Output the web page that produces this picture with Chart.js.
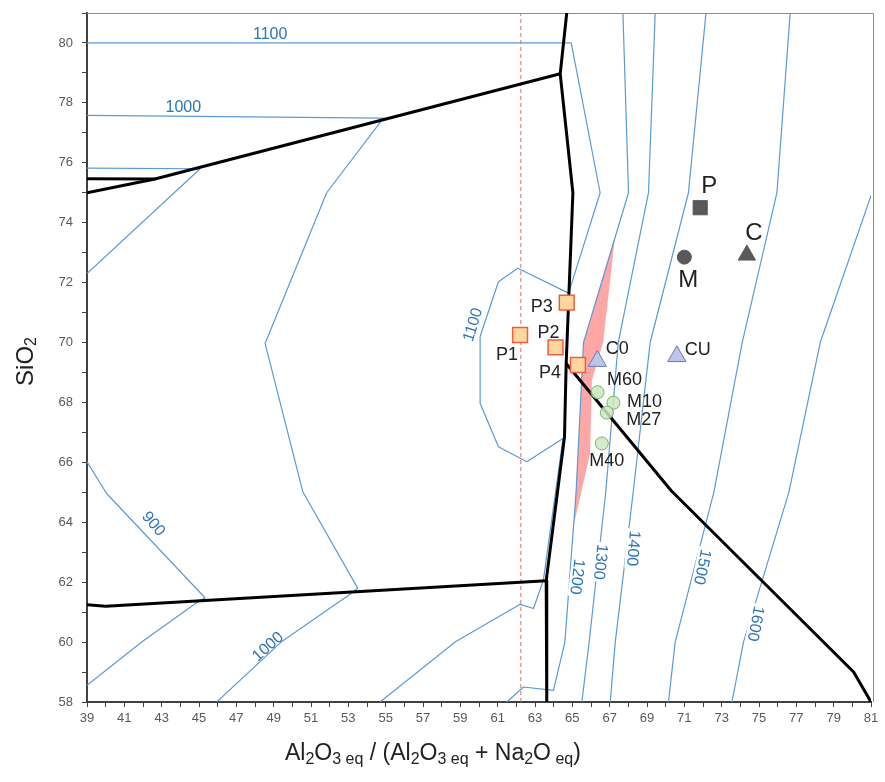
<!DOCTYPE html>
<html>
<head>
<meta charset="utf-8">
<title>SiO2 - Al2O3eq / (Al2O3eq + Na2Oeq)</title>
<script src="https://cdn.jsdelivr.net/npm/chart.js@4.4.1/dist/chart.umd.min.js"></script>
<style>
  html, body { margin: 0; padding: 0; background: #fff; }
  canvas { display: block; }
</style>
</head>
<body>
<canvas id="diagram" width="885" height="782"></canvas>
<script>
// 坐标轴范围
const xRange = [39, 81];
const yRange = [58, 81];

// 等温线 [Al2O3/(Al2O3+Na2O), SiO2]
const iso900a = [[39, 75.82], [45.06, 75.8], [39, 72.3]];
const iso900b = [[39, 66.02], [40.05, 64.96], [45.32, 61.48], [44.87, 61.31], [41.93, 60.0], [39, 58.56]];
const iso1000 = [[39, 77.58], [54.88, 77.49], [51.84, 75.0], [48.54, 69.97], [50.56, 65.02], [53.5, 61.8], [53.15, 61.62], [49.4, 60.0], [45.95, 58]];
const iso1100 = [[39, 80.0], [64.94, 80.0], [66.49, 75.0], [64.8, 71.65], [62.08, 72.48], [61.04, 72.03], [60.06, 70.2], [60.06, 67.97], [61.04, 66.52], [62.56, 66.02], [64.5, 66.8], [63.45, 62.07], [62.92, 61.12], [62.2, 61.26], [58.72, 60.0], [54.7, 58]];
const iso1200 = [[67.71, 81], [68.01, 75.0], [65.6, 70.0], [65.2, 65.0], [64.6, 60.0], [63.99, 58.39], [62.38, 58.5], [61.49, 58]];
const iso1300 = [[69.44, 81], [69.08, 75.0], [67.46, 70.0], [66.79, 65.0], [65.9, 60.0], [65.51, 58]];
const iso1400 = [[72.16, 81], [71.22, 75.0], [69.17, 70.0], [68.26, 65.0], [67.3, 60.0], [67.03, 58]];
const iso1500 = [[76.67, 81], [75.96, 75.0], [74.1, 70.0], [72.58, 65.0], [70.51, 60.0], [70.15, 58]];
const iso1600 = [[81, 74.9], [78.28, 70.0], [76.6, 65.0], [74.17, 60.0], [73.55, 58]];

// 相界线
const phaseTop = [[39, 75.0], [42.64, 75.46], [64.35, 78.97]];
const phaseTopShort = [[39, 75.47], [42.64, 75.46]];
const phaseMain = [[64.7, 81], [64.35, 78.97], [65.03, 75.0], [64.67, 69.3], [64.58, 66.85], [63.6, 62.05], [63.63, 58]];
const phaseLow = [[39, 61.25], [40.0, 61.2], [63.6, 62.05]];
const phaseDiag = [[64.67, 69.3], [70.3, 65.05], [80.07, 59.0], [81, 58]];

// 红色区域
const redZone = [[67.3, 73.6], [66.65, 70.0], [66.05, 68.75], [65.95, 66.3], [65.06, 63.85], [65.2, 65.0], [65.6, 70.0]];

// 红色虚线
const dashX = 62.24;

// 样品点
const refNames = ['P', 'M', 'C'];
const refPts = [[71.85, 74.5], [71.0, 72.85], [74.35, 72.92]];
const pNames = ['P1', 'P2', 'P3', 'P4'];
const pPts = [[62.2, 70.25], [64.1, 69.84], [64.7, 71.33], [65.3, 69.25]];
const cNames = ['C0', 'CU'];
const cPts = [[66.34, 69.38], [70.6, 69.54]];
const mNames = ['M60', 'M10', 'M27', 'M40'];
const mPts = [[66.35, 68.34], [67.2, 67.99], [66.85, 67.66], [66.58, 66.63]];

// 等温线标注：文字, x, y, 角度, 白底
const isoLabels = [
  ['1100', 48.81, 80.28, 0, false],
  ['1000', 44.16, 77.83, 0, false],
  ['1100', 59.69, 70.59, -73, false],
  ['900', 42.55, 63.94, 50, false],
  ['1000', 48.7, 59.84, -42, false],
  ['1200', 65.24, 62.18, 97, true],
  ['1300', 66.49, 62.68, 96, true],
  ['1400', 68.24, 63.13, 95, true],
  ['1500', 71.94, 62.51, 102, true],
  ['1600', 74.8, 60.62, 101, true],
];

// 标签相对点的偏移（像素）
const labelOffsets = {
  P: [9, -21], M: [4, 23], C: [7, -22],
  P1: [-13, 20], P2: [-7, -14], P3: [-25, 4], P4: [-28, 8],
  C0: [20, -12], CU: [21, -6],
  M60: [27, -12], M10: [31, -1], M27: [37, 7], M40: [5, 18],
};

const FONT = "Arial, 'Liberation Sans', sans-serif";
Chart.defaults.font.family = FONT;

function lineSet(data, color, width, order, dash) {
  return {
    data: data,
    showLine: true,
    borderColor: color,
    borderWidth: width,
    borderDash: dash || [],
    borderJoinStyle: 'round',
    pointRadius: 0,
    pointHoverRadius: 0,
    fill: false,
    tension: 0,
    order: order
  };
}

const datasets = [];

// 样品点在最上层
datasets.push({
  data: refPts, names: refNames, labelSize: 24,
  pointStyle: ['rect', 'circle', 'triangle'],
  pointRadius: [10, 7, 10],
  backgroundColor: '#595959', borderColor: '#595959', borderWidth: 1, order: 0
});
datasets.push({
  data: pPts, names: pNames, labelSize: 18,
  pointStyle: 'rect', pointRadius: 10.5,
  backgroundColor: 'rgb(255, 214, 160)', borderColor: 'rgb(240, 95, 60)', borderWidth: 1.5, order: 0
});
datasets.push({
  data: cPts, names: cNames, labelSize: 18,
  pointStyle: 'triangle', pointRadius: 10.5,
  backgroundColor: 'rgb(188, 197, 234)', borderColor: 'rgb(110, 120, 180)', borderWidth: 1, order: 0
});
datasets.push({
  data: mPts, names: mNames, labelSize: 18,
  pointStyle: 'circle', pointRadius: 6.5,
  backgroundColor: 'rgba(205, 230, 195, 0.85)', borderColor: 'rgb(120, 180, 100)', borderWidth: 1, order: 0
});

[phaseTop, phaseTopShort, phaseMain, phaseLow, phaseDiag].forEach(l => datasets.push(lineSet(l, '#000', 3, 1)));
datasets.push(lineSet([[dashX, yRange[0]], [dashX, yRange[1]]], 'rgb(215, 110, 110)', 1, 2, [4, 3]));
[iso900a, iso900b, iso1000, iso1100, iso1200, iso1300, iso1400, iso1500, iso1600]
  .forEach(l => datasets.push(lineSet(l, 'rgb(91, 155, 213)', 1.2, 2)));

// 红色区域用插件填充
datasets.push({ data: redZone, zone: 'rgb(255, 166, 166)', pointRadius: 0, showLine: false, order: 3 });

function drawRich(ctx, parts, size, subSize, drop) {
  let x = 0;
  parts.forEach(([t, sub]) => {
    ctx.font = (sub ? subSize : size) + 'px ' + FONT;
    ctx.fillText(t, x, sub ? drop : 0);
    x += ctx.measureText(t).width;
  });
  return x;
}
function richWidth(ctx, parts, size, subSize) {
  let w = 0;
  parts.forEach(([t, sub]) => {
    ctx.font = (sub ? subSize : size) + 'px ' + FONT;
    w += ctx.measureText(t).width;
  });
  return w;
}

const xTitle = [['Al', 0], ['2', 1], ['O', 0], ['3 eq', 1], [' / (', 0], ['Al', 0], ['2', 1], ['O', 0], ['3 eq', 1],
                [' + ', 0], ['Na', 0], ['2', 1], ['O', 0], [' eq', 1], [')', 0]];
const yTitle = [['SiO', 0], ['2', 1]];

const decorPlugin = {
  id: 'decor',
  beforeDatasetsDraw(chart) {
    const { ctx, chartArea: a } = chart;
    ctx.save();
    // 绘图区上、右边框
    ctx.strokeStyle = '#8c8c8c';
    ctx.lineWidth = 1;
    ctx.beginPath();
    ctx.moveTo(a.left, a.top + 0.5);
    ctx.lineTo(a.right + 2.5, a.top + 0.5);
    ctx.lineTo(a.right + 2.5, a.bottom);
    ctx.stroke();
    // 红色区域
    chart.data.datasets.forEach((ds, i) => {
      if (!ds.zone) return;
      const pts = chart.getDatasetMeta(i).data;
      ctx.fillStyle = ds.zone;
      ctx.beginPath();
      pts.forEach((p, k) => (k ? ctx.lineTo(p.x, p.y) : ctx.moveTo(p.x, p.y)));
      ctx.closePath();
      ctx.fill();
    });
    ctx.restore();
  },
  afterDatasetsDraw(chart) {
    const { ctx, scales: { x, y } } = chart;
    ctx.save();
    ctx.textAlign = 'center';
    ctx.textBaseline = 'middle';
    // 等温线标注
    ctx.font = '16px ' + FONT;
    isoLabels.forEach(([t, vx, vy, deg, bg]) => {
      ctx.save();
      ctx.translate(x.getPixelForValue(vx), y.getPixelForValue(vy));
      ctx.rotate(deg * Math.PI / 180);
      if (bg) {
        const w = ctx.measureText(t).width;
        ctx.fillStyle = '#fff';
        ctx.fillRect(-w / 2 - 2, -7, w + 4, 14);
      }
      ctx.fillStyle = 'rgb(46, 117, 182)';
      ctx.fillText(t, 0, 0);
      ctx.restore();
    });
    // 样品标注
    ctx.fillStyle = '#222';
    chart.data.datasets.forEach((ds, i) => {
      if (!ds.names) return;
      ctx.font = ds.labelSize + 'px ' + FONT;
      chart.getDatasetMeta(i).data.forEach((p, k) => {
        const name = ds.names[k];
        const off = labelOffsets[name] || [0, 0];
        ctx.fillText(name, p.x + off[0], p.y + off[1]);
      });
    });
    ctx.restore();
  },
  afterDraw(chart) {
    const { ctx, chartArea: a } = chart;
    ctx.save();
    ctx.fillStyle = '#222';
    ctx.textAlign = 'left';
    ctx.textBaseline = 'alphabetic';
    // 横轴标题
    ctx.save();
    ctx.translate(a.left + 198, a.bottom + 58);
    drawRich(ctx, xTitle, 23, 16, 4);
    ctx.restore();
    // 纵轴标题
    const w = richWidth(ctx, yTitle, 24, 16);
    ctx.save();
    ctx.translate(33, (a.top + a.bottom) / 2 + 4 + w / 2);
    ctx.rotate(-Math.PI / 2);
    drawRich(ctx, yTitle, 24, 16, 3);
    ctx.restore();
    ctx.restore();
  }
};

const axisColor = '#404040';
new Chart(document.getElementById('diagram'), {
  type: 'scatter',
  data: { datasets: datasets },
  options: {
    responsive: false,
    devicePixelRatio: 1,
    animation: false,
    events: [],
    layout: { padding: { top: 13, right: 14, left: 0, bottom: 0 } },
    plugins: { legend: { display: false }, tooltip: { enabled: false } },
    scales: {
      x: {
        type: 'linear', min: xRange[0], max: xRange[1],
        afterFit(s) { s.height = 80; s.paddingLeft = 0; s.paddingRight = 0; },
        ticks: {
          stepSize: 1, autoSkip: false, maxRotation: 0, padding: 4,
          color: '#595959', font: { size: 13 },
          callback: v => ((v - xRange[0]) % 2 === 0 ? v : '')
        },
        grid: { drawOnChartArea: false, drawTicks: true, tickLength: 5, tickColor: axisColor },
        border: { display: true, color: axisColor, width: 2 }
      },
      y: {
        type: 'linear', min: yRange[0], max: yRange[1],
        afterFit(s) { s.width = 87; s.paddingTop = 0; s.paddingBottom = 0; },
        ticks: {
          stepSize: 1, autoSkip: false, padding: 9,
          color: '#595959', font: { size: 13 },
          callback: v => (v % 2 === 0 ? v : '')
        },
        grid: { drawOnChartArea: false, drawTicks: true, tickLength: 5, tickColor: axisColor },
        border: { display: true, color: axisColor, width: 2 }
      }
    }
  },
  plugins: [decorPlugin]
});
</script>
</body>
</html>
